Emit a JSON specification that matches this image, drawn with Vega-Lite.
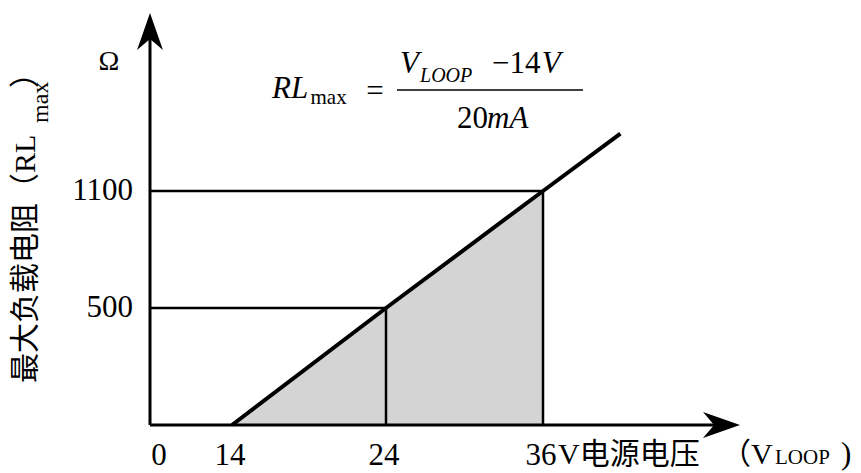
{
  "$schema": "https://vega.github.io/schema/vega-lite/v6.json",
  "width": 861,
  "height": 473,
  "autosize": "none",
  "padding": 0,
  "background": "white",
  "config": {"view": {"stroke": null}},
  "encoding": {
    "x": {"field": "x", "type": "quantitative", "axis": null,
          "scale": {"domain": [0, 14, 24, 36, 50], "range": [150, 232, 386, 543, 740], "nice": false, "zero": false}},
    "y": {"field": "y", "type": "quantitative", "axis": null,
          "scale": {"domain": [0, 500, 1100, 2000], "range": [425, 308, 191, 13], "nice": false, "zero": false}}
  },
  "layer": [
    {
      "data": {"values": [{"x": 14, "y": 0}, {"x": 24, "y": 500}, {"x": 36, "y": 1100}]},
      "mark": {"type": "area", "color": "#d4d4d4"},
      "encoding": {"y2": {"datum": 0}}
    },
    {
      "data": {"values": [
        {"x": 0, "y": 500, "x2": 24, "y2": 500},
        {"x": 0, "y": 1100, "x2": 36, "y2": 1100},
        {"x": 24, "y": 0, "x2": 24, "y2": 500},
        {"x": 36, "y": 0, "x2": 36, "y2": 1100}
      ]},
      "mark": {"type": "rule", "color": "black", "strokeWidth": 2.5},
      "encoding": {"x2": {"field": "x2"}, "y2": {"field": "y2"}}
    },
    {
      "data": {"values": [
        {"x": 0, "y": 0, "x2": 48.5, "y2": 0},
        {"x": 0, "y": 0, "x2": 0, "y2": 1880}
      ]},
      "mark": {"type": "rule", "color": "black", "strokeWidth": 3},
      "encoding": {"x2": {"field": "x2"}, "y2": {"field": "y2"}}
    },
    {
      "data": {"values": [{"x": 14, "y": 0}, {"x": 24, "y": 500}, {"x": 36, "y": 1100}, {"x": 41.5, "y": 1390}]},
      "mark": {"type": "line", "color": "black", "strokeWidth": 4},
      "encoding": {}
    },
    {
      "data": {"values": [{"x": 0, "y": 2000, "dir": "up"}, {"x": 50, "y": 0, "dir": "right"}]},
      "mark": {"type": "point", "filled": true, "color": "black", "opacity": 1, "size": 1369},
      "encoding": {
        "shape": {"field": "dir", "type": "nominal", "legend": null,
                  "scale": {"domain": ["up", "right"], "range": ["M0,0 L0.7,2 L0,1.4 L-0.7,2 Z", "M0,0 L-2,-0.7 L-1.4,0 L-2,0.7 Z"]}}
      }
    },
    {
      "data": {"values": [{"x": 14, "y": 0, "label": "14"}, {"x": 24, "y": 0, "label": "24"}, {"x": 36, "y": 0, "label": "36"}]},
      "mark": {"type": "text", "font": "Liberation Serif", "fontSize": 31, "align": "center", "baseline": "alphabetic", "dy": 40, "dx": -2, "color": "black"},
      "encoding": {"text": {"field": "label"}}
    },
    {
      "data": {"values": [{"x": 0, "y": 0, "label": "0"}]},
      "mark": {"type": "text", "font": "Liberation Serif", "fontSize": 31, "align": "center", "baseline": "alphabetic", "dy": 40, "dx": 9, "color": "black"},
      "encoding": {"text": {"field": "label"}}
    },
    {
      "data": {"values": [{"x": 0, "y": 500, "label": "500"}, {"x": 0, "y": 1100, "label": "1100"}]},
      "mark": {"type": "text", "font": "Liberation Serif", "fontSize": 31, "align": "right", "baseline": "middle", "dx": -17, "color": "black"},
      "encoding": {"text": {"field": "label"}}
    },
    {
      "data": {"values": [{"x": 36, "y": 0, "label": "V电源电压"}]},
      "mark": {"type": "text", "font": "Liberation Serif, Noto Sans CJK SC", "fontSize": 30, "align": "left", "baseline": "alphabetic", "dy": 39, "dx": 15, "color": "black"},
      "encoding": {"text": {"field": "label"}}
    },
    {
      "data": {"values": [{"x": 50, "y": 0, "label": "（V"}]},
      "mark": {"type": "text", "font": "Liberation Serif, Noto Sans CJK SC", "fontSize": 30, "align": "left", "baseline": "alphabetic", "dy": 39, "dx": -19, "color": "black"},
      "encoding": {"text": {"field": "label"}}
    },
    {
      "data": {"values": [{"x": 50, "y": 0, "label": "LOOP"}]},
      "mark": {"type": "text", "font": "Liberation Serif", "fontSize": 21, "align": "left", "baseline": "alphabetic", "dy": 39, "dx": 35, "color": "black"},
      "encoding": {"text": {"field": "label"}}
    },
    {
      "data": {"values": [{"x": 50, "y": 0, "label": ")"}]},
      "mark": {"type": "text", "font": "Liberation Serif", "fontSize": 31, "align": "left", "baseline": "alphabetic", "dy": 39, "dx": 101, "color": "black"},
      "encoding": {"text": {"field": "label"}}
    },
    {
      "data": {"values": [{"x": 0, "y": 1750, "label": "Ω"}]},
      "mark": {"type": "text", "font": "Liberation Serif", "fontSize": 28, "align": "center", "baseline": "middle", "dx": -41, "color": "black"},
      "encoding": {"text": {"field": "label"}}
    },
    {
      "data": {"values": [{"x": -21.2, "y": 179.5, "label": "最大负载电阻（RL"}, {"x": -21.2, "y": 1621, "label": "）"}]},
      "mark": {"type": "text", "font": "Liberation Serif, Noto Sans CJK SC", "fontSize": 30, "align": "left", "baseline": "middle", "angle": -90, "color": "black"},
      "encoding": {"text": {"field": "label"}}
    },
    {
      "data": {"values": [{"x": -17.4, "y": 1444, "label": "max"}]},
      "mark": {"type": "text", "font": "Liberation Serif", "fontSize": 24, "align": "left", "baseline": "alphabetic", "angle": -90, "color": "black"},
      "encoding": {"text": {"field": "label"}}
    },
    {
      "data": {"values": [{"x": 16.6, "y": 1570, "label": "RL"}, {"x": 25.07, "y": 1697, "label": "V"}, {"x": 35.9, "y": 1697, "label": "V"}, {"x": 31.72, "y": 1418, "label": "mA"}]},
      "mark": {"type": "text", "font": "Liberation Serif", "fontSize": 31, "fontStyle": "italic", "align": "left", "baseline": "alphabetic", "color": "black"},
      "encoding": {"text": {"field": "label"}}
    },
    {
      "data": {"values": [{"x": 26.6, "y": 1651, "label": "LOOP"}]},
      "mark": {"type": "text", "font": "Liberation Serif", "fontSize": 20, "fontStyle": "italic", "align": "left", "baseline": "alphabetic", "color": "black"},
      "encoding": {"text": {"field": "label"}}
    },
    {
      "data": {"values": [{"x": 19.1, "y": 1540, "label": "max"}]},
      "mark": {"type": "text", "font": "Liberation Serif", "fontSize": 21, "align": "left", "baseline": "alphabetic", "color": "black"},
      "encoding": {"text": {"field": "label"}}
    },
    {
      "data": {"values": [{"x": 32.1, "y": 1697, "label": "−14"}, {"x": 29.43, "y": 1418, "label": "20"}]},
      "mark": {"type": "text", "font": "Liberation Serif", "fontSize": 31, "align": "left", "baseline": "alphabetic", "color": "black"},
      "encoding": {"text": {"field": "label"}}
    },
    {
      "data": {"values": [{"x": 23.29, "y": 1600, "label": "="}]},
      "mark": {"type": "text", "font": "Liberation Serif", "fontSize": 31, "align": "center", "baseline": "middle", "color": "black"},
      "encoding": {"text": {"field": "label"}}
    },
    {
      "data": {"values": [{"x": 24.84, "y": 1611, "x2": 38.84, "y2": 1611}]},
      "mark": {"type": "rule", "color": "black", "strokeWidth": 1.5},
      "encoding": {"x2": {"field": "x2"}, "y2": {"field": "y2"}}
    }
  ]
}
